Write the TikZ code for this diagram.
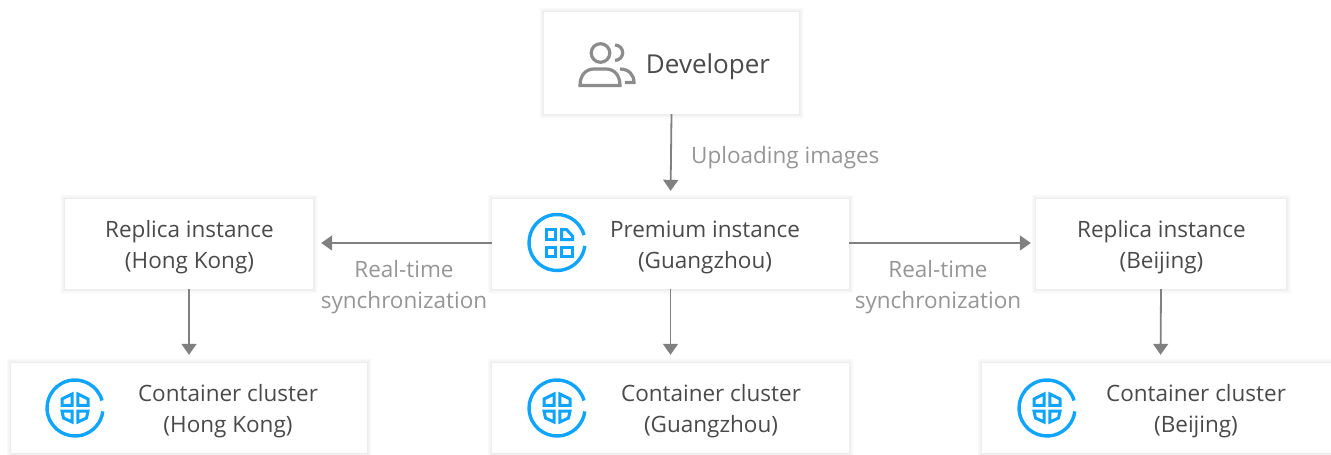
\documentclass[tikz,border=0pt]{standalone}
\usepackage{fontspec}
\setmainfont{Open Sans}
\usetikzlibrary{arrows.meta,calc}
\definecolor{txt}{HTML}{4A4A4A}
\definecolor{lbl}{HTML}{969696}
\definecolor{arr}{HTML}{808080}
\definecolor{blu}{HTML}{0FA5FF}
\definecolor{ico}{HTML}{8C8C8C}
\tikzset{
  x=1pt,y=-1pt,
  shadowlayer/.style={preaction={draw=black,draw opacity=0.012,line width=#1,fill=none}},
  card/.style={draw=none,fill=white,minimum height=90pt,inner sep=0pt,
    shadowlayer=9pt,shadowlayer=7.5pt,shadowlayer=6pt,shadowlayer=4.5pt,shadowlayer=3pt,shadowlayer=1.5pt},
  cardtext/.style={text=txt,font=\fontsize{22.5}{31}\selectfont,align=center,inner sep=0pt},
  edgelabel/.style={text=lbl,font=\fontsize{22.5}{31}\selectfont,align=center,inner sep=0pt},
  link/.style={draw=arr,line width=1.8pt,-{Triangle[length=11pt,width=15pt]}},
  ringline/.style={draw=blu,line width=3.4pt,fill=none},
  cellline/.style={draw=blu,line width=3pt,fill=none,line join=miter},
  personline/.style={draw=ico,line width=3.2pt,fill=none},
  premiumicon/.pic={
    \draw[ringline] (27,-7.5) arc[start angle=-15.5,end angle=-353,radius=28];
    \draw[cellline] (-11,-13) rectangle (-1.3,-3);
    \draw[cellline] (4.6,-13) -- (4.6,-3) -- (15.5,-3) -- (15.5,-6.5) -- (9.5,-13) -- cycle;
    \draw[cellline] (-11,4.5) rectangle (-1.3,14);
    \draw[cellline] (4.6,4.5) rectangle (15.5,14);
  },
  clustericon/.pic={
    \draw[ringline] (27,-7.5) arc[start angle=-15.5,end angle=-353,radius=28];
    \draw[cellline] (-2.9,-14) -- (-2.9,-2.7) -- (-13,-2.7) -- (-13,-9) -- cycle;
    \draw[cellline] (2.9,-14) -- (2.9,-2.7) -- (13,-2.7) -- (13,-9) -- cycle;
    \draw[cellline] (-13,3.2) -- (-2.9,3.2) -- (-2.9,14) -- (-11.5,10) -- cycle;
    \draw[cellline] (13,3.2) -- (2.9,3.2) -- (2.9,14) -- (11.5,10) -- cycle;
  },
  personicon/.pic={
    \draw[personline] (600.5,53) circle[radius=9.3];
    \draw[personline] (615,45) arc[start angle=-90,end angle=90,radius=7.7];
    \draw[personline] (580,85.5) -- (620,85.5) .. controls (620,75) and (614,69) .. (606,69)
       -- (594,69) .. controls (586,69) and (580,75) .. (580,85.5) -- cycle;
    \draw[personline] (620,69) .. controls (629,69) and (634,75) .. (634,82.5) -- (625,82.5);
  },
}
\begin{document}
\begin{tikzpicture}
\useasboundingbox (0,0) rectangle (1331,455);
\fill[white] (0,0) rectangle (1331,455);
\node[card,minimum width=255pt,minimum height=102pt] (dev) at (671.5,63) {};
\node[card,minimum width=357pt] (prem) at (670.5,244) {};
\node[card,minimum width=248pt] (rhk) at (189,244) {};
\node[card,minimum width=250pt] (rbj) at (1161,244) {};
\node[card,minimum width=356pt] (chk) at (189,408) {};
\node[card,minimum width=357pt] (cgz) at (670.5,408) {};
\node[card,minimum width=357pt] (cbj) at (1160.5,408) {};

\node[cardtext,font=\fontsize{26}{30}\selectfont] (tdev) at (708,66.5) {Developer};
\node[cardtext] (tprem) at (705,247) {Premium instance\\(Guangzhou)};
\node[cardtext] (trhk) at (189.5,247) {Replica instance\\(Hong Kong)};
\node[cardtext] (trbj) at (1161.5,247) {Replica instance\\(Beijing)};
\node[cardtext] (tchk) at (228,411) {Container cluster\\(Hong Kong)};
\node[cardtext] (tcgz) at (711,411) {Container cluster\\(Guangzhou)};
\node[cardtext] (tcbj) at (1196,411) {Container cluster\\(Beijing)};

\pic at (0,0) {personicon};
\pic at (557,242.5) {premiumicon};
\pic at (75,408) {clustericon};
\pic at (557,408) {clustericon};
\pic at (1047,408) {clustericon};

\draw[link,shorten >=8pt] (dev.south) -- (prem.north);
\draw[link,shorten >=8pt] (prem.west |- 0,243) -- (rhk.east |- 0,243);
\draw[link,shorten >=5pt] (prem.east |- 0,243) -- (rbj.west |- 0,243);
\draw[link,shorten >=8pt] (rhk.south) -- (chk.north);
\draw[link,shorten >=8pt] (prem.south) -- (cgz.north);
\draw[link,shorten >=8pt] (rbj.south) -- (cbj.north);

\node[edgelabel,anchor=west] (lup) at (691,158) {Uploading images};
\node[edgelabel] (lhk) at (404,287) {Real-time\\synchronization};
\node[edgelabel] (lbj) at (938,287) {Real-time\\synchronization};
\end{tikzpicture}
\end{document}
